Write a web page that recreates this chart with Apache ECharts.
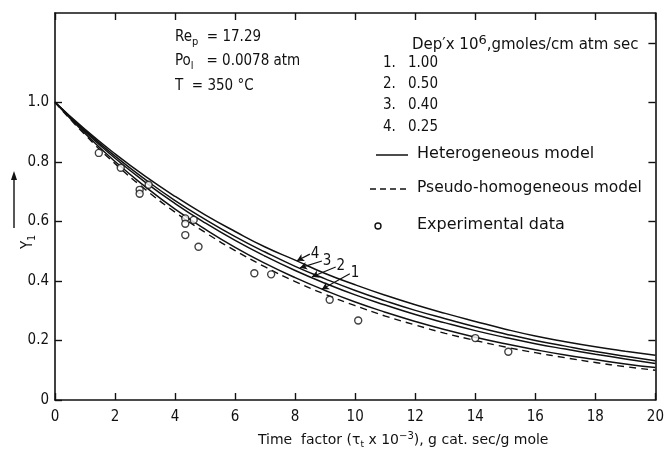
<!DOCTYPE html>
<html><head><meta charset="utf-8">
<script src="https://cdn.jsdelivr.net/npm/echarts@6/dist/echarts.min.js"></script>
<style>html,body{margin:0;padding:0;background:#fff}#c{width:667px;height:454px}</style>
</head><body><div id="c"></div>
<script>
// Time factor values (x) at which the model curves were read
const timeFactor = [0,1,2,3,4,5,6,7,8,9,10,11,12,13,14,15,16,17,18,19,20];
// Heterogeneous model, Dep' x 10^6 = 1.00, 0.50, 0.40, 0.25
const curve1 = [1,0.895,0.801,0.717,0.641,0.574,0.513,0.459,0.411,0.368,0.329,0.295,0.264,0.236,0.211,0.189,0.169,0.151,0.136,0.121,0.109];
const curve2 = [1,0.901,0.812,0.732,0.660,0.595,0.536,0.483,0.435,0.392,0.353,0.319,0.287,0.259,0.233,0.210,0.189,0.171,0.154,0.138,0.123];
const curve3 = [1,0.905,0.819,0.741,0.670,0.607,0.549,0.497,0.449,0.407,0.368,0.333,0.301,0.273,0.246,0.222,0.200,0.181,0.163,0.147,0.132];
const curve4 = [1,0.909,0.827,0.752,0.684,0.622,0.566,0.514,0.470,0.425,0.387,0.352,0.320,0.291,0.264,0.238,0.215,0.196,0.179,0.164,0.150];
// Pseudo-homogeneous model
const pseudo = [1,0.891,0.794,0.708,0.631,0.563,0.502,0.447,0.398,0.355,0.317,0.282,0.252,0.224,0.200,0.178,0.159,0.142,0.126,0.112,0.100];
// Experimental data
const expX = [1.46,2.19,2.82,2.82,3.12,4.34,4.34,4.34,4.62,4.78,6.64,7.20,9.15,10.1,14.0,15.1];
const expY = [0.830,0.780,0.706,0.693,0.723,0.610,0.592,0.554,0.605,0.515,0.426,0.422,0.337,0.267,0.208,0.162];
// Axis ticks
const xTickValues = [0,2,4,6,8,10,12,14,16,18,20];
const yTickValues = [0,0.2,0.4,0.6,0.8,1.0];
// Curve number labels: [label, tipX, tipY, endX, endY]
const curveTags = [['4',8.06,0.468,8.49,0.49],['3',8.16,0.444,8.89,0.467],['2',8.56,0.414,9.35,0.447],['1',8.89,0.372,9.82,0.424]];

const FONT = "'DejaVu Sans Condensed','Liberation Sans Narrow','DejaVu Sans',sans-serif";
const WIDE = "'DejaVu Sans',sans-serif";
const INK = '#111';
const pair = (xs, ys) => xs.map((x, i) => [x, ys[i]]);

const chart = echarts.init(document.getElementById('c'), null, {renderer: 'canvas'});
const lineBase = {type: 'line', showSymbol: false, symbol: 'none', smooth: true, silent: true,
  lineStyle: {color: INK, width: 1.5}, z: 3};

const axisCommon = {
  axisLine: {show: true, onZero: false, lineStyle: {color: INK, width: 1.6}},
  axisTick: {show: true, inside: true, length: 7, lineStyle: {color: INK, width: 1.4}},
  splitLine: {show: false}
};

const option = {
  animation: false,
  backgroundColor: '#fff',
  textStyle: {fontFamily: FONT},
  grid: {left: 55, right: 9, top: 13, bottom: 47},
  xAxis: [
    Object.assign({type: 'value', position: 'bottom', min: 0, max: 20, interval: 2,
      axisLabel: {color: INK, fontSize: 15, fontFamily: FONT, margin: 10},
      name: 'Time  factor ({b|τ}{s|t} x 10{p|−3}), g cat. sec/g mole',
      nameLocation: 'middle', nameGap: 31,
      nameTextStyle: {color: INK, fontSize: 14, fontFamily: WIDE, padding: [0, 0, 0, 96],
        rich: {b: {fontSize: 14, fontFamily: WIDE, color: INK},
               s: {fontSize: 9, fontFamily: WIDE, color: INK, verticalAlign: 'bottom', padding: [8,0,0,0]},
               p: {fontSize: 10, fontFamily: WIDE, color: INK, verticalAlign: 'top', padding: [0,0,8,0]}}}
    }, axisCommon),
    Object.assign({type: 'value', position: 'top', min: 0, max: 20, interval: 2,
      axisLabel: {show: false}}, axisCommon)
  ],
  yAxis: [
    Object.assign({type: 'value', position: 'left', min: 0, max: 1.3, interval: 0.1,
      axisLabel: {color: INK, fontSize: 15, fontFamily: FONT, margin: 6, customValues: yTickValues,
        formatter: v => v === 0 ? '0' : v.toFixed(1)}},
      axisCommon, {axisTick: {show: true, inside: true, length: 7, customValues: yTickValues, lineStyle: {color: INK, width: 1.4}}}),
    Object.assign({type: 'value', position: 'right', min: 0, max: 1.3, interval: 0.1,
      axisLabel: {show: false}},
      axisCommon, {axisTick: {show: true, inside: true, length: 7, customValues: [0.2,0.4,0.6,0.8,1.0,1.2], lineStyle: {color: INK, width: 1.4}}})
  ],
  series: [
    Object.assign({}, lineBase, {name: 'Heterogeneous model', data: pair(timeFactor, curve1)}),
    Object.assign({}, lineBase, {name: 'Heterogeneous model', data: pair(timeFactor, curve2)}),
    Object.assign({}, lineBase, {name: 'Heterogeneous model', data: pair(timeFactor, curve3)}),
    Object.assign({}, lineBase, {name: 'Heterogeneous model', data: pair(timeFactor, curve4),
      markLine: {silent: true, symbol: ['none', 'arrow'], symbolSize: [6, 7], animation: false,
        lineStyle: {color: INK, width: 1.2, type: 'solid'},
        label: {show: true, position: 'start', color: INK, fontSize: 15, fontFamily: FONT, distance: 1},
        data: curveTags.map(t => [
          {coord: [t[3], t[4]], label: {formatter: t[0]}},
          {coord: [t[1], t[2]]}
        ])}}),
    Object.assign({}, lineBase, {name: 'Pseudo-homogeneous model', data: pair(timeFactor, pseudo),
      lineStyle: {color: INK, width: 1.4, type: [7, 5]}}),
    {type: 'scatter', name: 'Experimental data', data: pair(expX, expY), symbol: 'circle', symbolSize: 7,
      itemStyle: {color: '#fff', borderColor: INK, borderWidth: 1.4}, z: 5, silent: true}
  ],
  graphic: [
    // upper-left conditions
    {type: 'text', left: 175, top: 30, style: {text: 'Re{s|p}  = 17.29', fill: INK, font: '15px ' + FONT,
      rich: {s: {fontSize: 11, fontFamily: FONT, fill: INK, verticalAlign: 'bottom', padding: [9,0,0,0]}}}},
    {type: 'text', left: 175, top: 54, style: {text: 'Po{s|l}   = 0.0078 atm', fill: INK, font: '15px ' + FONT,
      rich: {s: {fontSize: 11, fontFamily: FONT, fill: INK, verticalAlign: 'bottom', padding: [9,0,0,0]}}}},
    {type: 'text', left: 175, top: 79, style: {text: 'T  = 350 °C', fill: INK, font: '15px ' + FONT}},
    // legend block
    {type: 'text', left: 412, top: 34, style: {text: 'Dep′x 10{p|6},gmoles/cm atm sec', fill: INK, font: '15px ' + WIDE,
      rich: {p: {fontSize: 13, fontFamily: WIDE, fill: INK, verticalAlign: 'top', padding: [0,0,9,0]}}}},
    {type: 'text', left: 383, top: 56, style: {text: '1.', fill: INK, font: '15px ' + FONT}},
    {type: 'text', left: 408, top: 56, style: {text: '1.00', fill: INK, font: '15px ' + FONT}},
    {type: 'text', left: 383, top: 77, style: {text: '2.', fill: INK, font: '15px ' + FONT}},
    {type: 'text', left: 408, top: 77, style: {text: '0.50', fill: INK, font: '15px ' + FONT}},
    {type: 'text', left: 383, top: 98, style: {text: '3.', fill: INK, font: '15px ' + FONT}},
    {type: 'text', left: 408, top: 98, style: {text: '0.40', fill: INK, font: '15px ' + FONT}},
    {type: 'text', left: 383, top: 120, style: {text: '4.', fill: INK, font: '15px ' + FONT}},
    {type: 'text', left: 408, top: 120, style: {text: '0.25', fill: INK, font: '15px ' + FONT}},
    {type: 'line', shape: {x1: 376, y1: 155, x2: 408, y2: 155}, style: {stroke: INK, lineWidth: 1.5}},
    {type: 'text', left: 417, top: 146, style: {text: 'Heterogeneous model', fill: INK, font: '16px ' + WIDE}},
    {type: 'line', shape: {x1: 370, y1: 189, x2: 408, y2: 189}, style: {stroke: INK, lineWidth: 1.4, lineDash: [6, 4]}},
    {type: 'text', left: 417, top: 180, style: {text: 'Pseudo-homogeneous model', fill: INK, font: '15.5px ' + WIDE}},
    {type: 'circle', shape: {cx: 378, cy: 226, r: 3}, style: {fill: '#fff', stroke: INK, lineWidth: 1.4}},
    {type: 'text', left: 417, top: 217, style: {text: 'Experimental data', fill: INK, font: '16px ' + WIDE}},
    // y-axis title with upward arrow
    {type: 'text', x: 20, y: 249, rotation: Math.PI / 2,
      style: {text: 'Y{s|1}', fill: INK, font: '15px ' + FONT,
        rich: {s: {fontSize: 10, fontFamily: FONT, fill: INK, verticalAlign: 'bottom', padding: [7,0,0,0]}}}},
    {type: 'line', shape: {x1: 14, y1: 228, x2: 14, y2: 176}, style: {stroke: INK, lineWidth: 1.4}},
    {type: 'polygon', shape: {points: [[14, 171], [11, 180], [17, 180]]}, style: {fill: INK}}
  ]
};
chart.setOption(option);
</script></body></html>
